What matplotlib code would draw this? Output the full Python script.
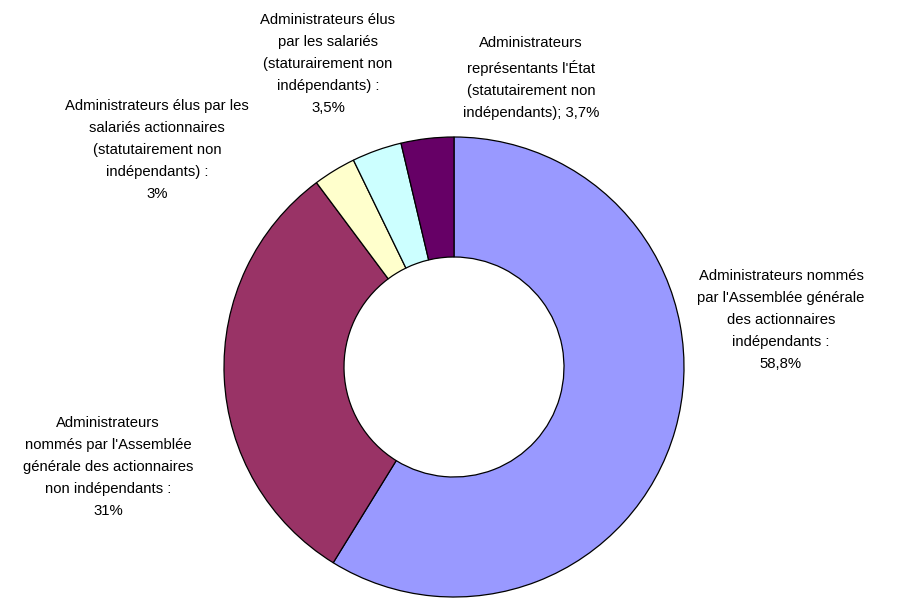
import matplotlib
matplotlib.use("Agg")
from matplotlib import pyplot as plt

labels = [
    "Administrateurs nommés\npar l'Assemblée générale\ndes actionnaires\nindépendants :\n58,8%",
    "Administrateurs\nnommés par l'Assemblée\ngénérale des actionnaires\nnon indépendants :\n31%",
    "Administrateurs élus par les\nsalariés actionnaires\n(statutairement non\nindépendants) :\n3%",
    "Administrateurs élus\npar les salariés\n(staturairement non\nindépendants) :\n3,5%",
    "Administrateurs\nreprésentants l'État\n(statutairement non\nindépendants); 3,7%",
]
values = [58.8, 31, 3, 3.5, 3.7]
colors = ["#9999FF", "#993366", "#FFFFCC", "#CCFFFF", "#660066"]

# label centres in pixel coords (top-left origin)
label_pos = [(781, 320), (108, 467), (157, 150), (328, 64), (531, 78)]


def main():
    plt.rcParams['font.family'] = ['Liberation Sans', 'DejaVu Sans']
    fig = plt.figure(figsize=(9.03, 6), dpi=100)
    ax = fig.add_axes([0, 0, 1, 1])

    ax.pie(values, colors=colors, startangle=90, counterclock=False,
           center=(454, 600 - 367), radius=230, frame=True,
           wedgeprops=dict(width=120, edgecolor='black', linewidth=0.9))
    ax.set_xlim(0, 903)
    ax.set_ylim(0, 600)
    ax.set_aspect('equal')
    ax.axis('off')

    for text, (x, y) in zip(labels, label_pos):
        ax.text(x, 600 - y, text, ha='center', va='center', fontsize=10.7,
                linespacing=1.72, color='black')

    fig.savefig("out.png", dpi=100)


main()
